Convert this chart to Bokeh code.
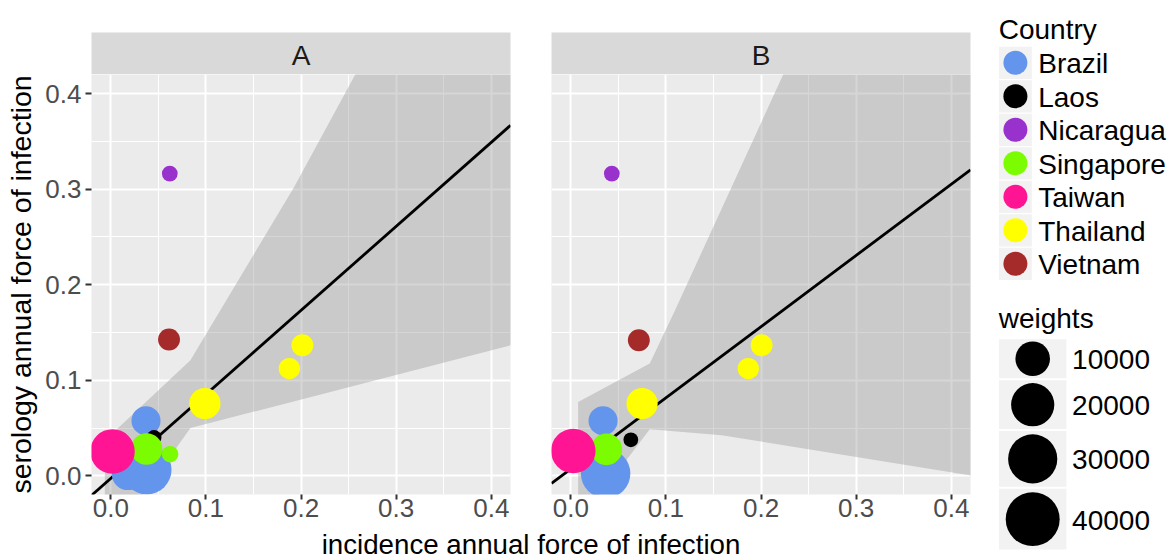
from bokeh.plotting import figure
from bokeh.layouts import row, column
from bokeh.models import ColumnDataSource, Range1d, FixedTicker, PrintfTickFormatter
from bokeh.transform import factor_cmap
from bokeh.core.properties import value
from bokeh.embed import file_html
from bokeh.resources import INLINE

# ---------------- data ----------------
countries = ["Brazil", "Laos", "Nicaragua", "Singapore", "Taiwan", "Thailand", "Vietnam"]
country_colors = ["#6495ED", "#000000", "#9932CC", "#7CFC00", "#FF1493", "#FFFF00", "#A52A2A"]
panel_labels = ["A", "B"]

a_country = ["Brazil", "Brazil", "Brazil", "Laos", "Nicaragua", "Singapore", "Singapore",
             "Taiwan", "Thailand", "Thailand", "Thailand", "Vietnam"]
a_incidence = [0.0370, 0.0378, 0.0179, 0.0455, 0.0620, 0.0376, 0.0623, 0.0018, 0.0989, 0.1877, 0.2014, 0.0612]
a_serology = [0.0577, 0.0065, 0.0018, 0.0402, 0.3163, 0.0281, 0.0227, 0.0256, 0.0757, 0.1123, 0.1367, 0.1427]
a_weight = [5800, 30600, 7800, 700, 850, 7500, 1000, 22000, 7300, 2200, 2400, 2400]

b_country = ["Brazil", "Brazil", "Laos", "Nicaragua", "Singapore", "Taiwan",
             "Thailand", "Thailand", "Thailand", "Vietnam"]
b_incidence = [0.0339, 0.0366, 0.0631, 0.0431, 0.0374, 0.0026, 0.0749, 0.1866, 0.2006, 0.0715]
b_serology = [0.0577, 0.0025, 0.0377, 0.3163, 0.0277, 0.0260, 0.0757, 0.1123, 0.1367, 0.1419]
b_weight = [5800, 30600, 700, 850, 7500, 22000, 7300, 2200, 2400, 2400]

# weighted linear fits (intercept, slope)
a_fit = (-0.0026, 0.879)
b_fit = (0.0072, 0.745)

# confidence bands
a_band_upper_x = [-0.0063, 0.0837, 0.1926, 0.257, 0.43]
a_band_upper_y = [0.037, 0.121, 0.302, 0.42, 0.736]
a_band_lower_x = [-0.0063, 0.0837, 0.43]
a_band_lower_y = [-0.076, 0.050, 0.1392]

b_band_upper_x = [0.0077, 0.083, 0.1096, 0.2233, 0.43]
b_band_upper_y = [0.0774, 0.1176, 0.1733, 0.42, 0.87]
b_band_lower_x = [0.0077, 0.083, 0.1586, 0.43]
b_band_lower_y = [-0.050, 0.0488, 0.0426, -0.001]

weight_breaks = [10000, 20000, 30000, 40000]
axis_ticks = [0.0, 0.1, 0.2, 0.3, 0.4]
axis_minor_ticks = [0.05, 0.15, 0.25, 0.35]

# ---------------- styling ----------------
FONT = "Liberation Sans"
X_RANGE = (-0.0203, 0.4202)
Y_RANGE = (-0.0195, 0.4200)


def size_for(w):
    return 34.6 * (w / 10000.0) ** 0.32


def make_strip(label, left, right):
    s = figure(frame_width=419, frame_height=42, min_border_left=left, min_border_right=right,
               min_border_top=32, min_border_bottom=0,
               x_range=Range1d(0, 1), y_range=Range1d(0, 42),
               x_axis_location=None, y_axis_location=None,
               toolbar_location=None, output_backend="svg",
               background_fill_color="#D9D9D9", border_fill_color="white",
               outline_line_color=None)
    s.grid.visible = False
    s.text(x=[0.5], y=[19], text=[label], text_align="center", text_baseline="middle",
           text_font=value(FONT), text_font_size="28px", text_color="#1A1A1A")
    return s


def make_panel(inc, ser, ctry, wts, ux, uy, lx, ly, fit, show_y, left, right):
    p = figure(frame_width=419, frame_height=420, min_border_left=left, min_border_right=right,
               min_border_top=0, min_border_bottom=34,
               x_range=Range1d(*X_RANGE), y_range=Range1d(*Y_RANGE),
               y_axis_location="left" if show_y else None,
               toolbar_location=None, output_backend="svg",
               background_fill_color="#EBEBEB", border_fill_color="white",
               outline_line_color=None)
    axes = [p.xaxis[0]] + ([p.yaxis[0]] if show_y else [])
    for ax in axes:
        ax.ticker = FixedTicker(ticks=axis_ticks, minor_ticks=axis_minor_ticks)
        ax.formatter = PrintfTickFormatter(format="%.1f")
        ax.axis_line_color = None
        ax.major_tick_line_color = "#333333"
        ax.major_tick_line_width = 2
        ax.major_tick_in = 0
        ax.minor_tick_line_color = None
        ax.major_label_text_font = FONT
        ax.major_label_text_font_size = "26px"
        ax.major_label_text_color = "#4D4D4D"
    p.xaxis.major_tick_out = 5
    p.xaxis.major_label_standoff = -1
    if show_y:
        p.yaxis.major_tick_out = 6
        p.yaxis.major_label_standoff = 4
        p.yaxis.axis_label = "serology annual force of infection"
        p.yaxis.axis_label_text_font = FONT
        p.yaxis.axis_label_text_font_size = "28.5px"
        p.yaxis.axis_label_text_font_style = "normal"
        p.yaxis.axis_label_text_color = "black"
        p.yaxis.axis_label_standoff = 5
    for g in (p.xgrid[0], p.ygrid[0]):
        g.ticker = FixedTicker(ticks=axis_ticks, minor_ticks=axis_minor_ticks)
        g.grid_line_color = "white"
        g.grid_line_width = 2
        g.minor_grid_line_color = "white"
        g.minor_grid_line_width = 1

    # confidence band
    p.patch(ux + lx[::-1], uy + ly[::-1], fill_color="#999999", fill_alpha=0.4, line_color=None)
    # fitted line
    b0, b1 = fit
    lxs = [X_RANGE[0], X_RANGE[1]]
    p.line(lxs, [b0 + b1 * x for x in lxs], line_color="black", line_width=2.8)
    # points
    src = ColumnDataSource(dict(x=inc, y=ser, country=ctry, size=[size_for(w) for w in wts]))
    p.scatter("x", "y", size="size", source=src,
              fill_color=factor_cmap("country", palette=country_colors, factors=countries),
              line_color=None)
    return p


sA = make_strip(panel_labels[0], 91, 20)
pA = make_panel(a_incidence, a_serology, a_country, a_weight,
                a_band_upper_x, a_band_upper_y, a_band_lower_x, a_band_lower_y,
                a_fit, True, 91, 20)
sB = make_strip(panel_labels[1], 21, 10)
pB = make_panel(b_incidence, b_serology, b_country, b_weight,
                b_band_upper_x, b_band_upper_y, b_band_lower_x, b_band_lower_y,
                b_fit, False, 21, 10)

# x-axis title strip
t = figure(width=980, height=31, x_range=Range1d(0, 980), y_range=Range1d(0, 31),
           min_border=0, x_axis_location=None, y_axis_location=None,
           toolbar_location=None, output_backend="svg", outline_line_color=None,
           background_fill_color="white", border_fill_color="white")
t.grid.visible = False
t.text(x=[530.5], y=[15.5], text=["incidence annual force of infection"], text_align="center",
       text_baseline="middle", text_font=value(FONT), text_font_size="27.7px", text_color="black")

# legend
leg = figure(width=193, height=559, x_range=Range1d(0, 193), y_range=Range1d(559, 0),
             min_border=0, x_axis_location=None, y_axis_location=None,
             toolbar_location=None, output_backend="svg", outline_line_color=None,
             background_fill_color="white", border_fill_color="white")
leg.grid.visible = False
LEG_FONT_SIZE = "28px"
leg.text(x=[18.2], y=[28.5], text=["Country"], text_baseline="middle",
         text_font=value(FONT), text_font_size=LEG_FONT_SIZE, text_color="black")
n = len(countries)
row_h = 33.5
top0 = 45.6
cy = [top0 + row_h * (i + 0.5) for i in range(n)]
leg.rect(x=[34.9] * n, y=cy, width=32.8, height=row_h - 1.2, fill_color="#F2F2F2", line_color=None)
leg.scatter(x=[34.9] * n, y=cy, size=24, fill_color=country_colors, line_color=None)
leg.text(x=[57.7] * n, y=[c + 1 for c in cy], text=countries, text_baseline="middle",
         text_font=value(FONT), text_font_size=LEG_FONT_SIZE, text_color="black")

leg.text(x=[18.2], y=[318], text=["weights"], text_baseline="middle",
         text_font=value(FONT), text_font_size=LEG_FONT_SIZE, text_color="black")
wd = [size_for(w) for w in weight_breaks]
wh = [1.13 * d for d in wd]
wc = []
tt = 338.7
for h in wh:
    wc.append(tt + h / 2)
    tt += h + 2
m = len(weight_breaks)
leg.rect(x=[52.2] * m, y=wc, width=67.4, height=wh, fill_color="#F2F2F2", line_color=None)
leg.scatter(x=[52.2] * m, y=wc, size=wd, fill_color="black", line_color=None)
leg.text(x=[91.6] * m, y=[c + 1 for c in wc], text=[str(w) for w in weight_breaks], text_baseline="middle",
         text_font=value(FONT), text_font_size=LEG_FONT_SIZE, text_color="black")

layout = row(column(row(column(sA, pA), column(sB, pB)), t), leg)
open("out.html", "w").write(file_html(layout, INLINE))
